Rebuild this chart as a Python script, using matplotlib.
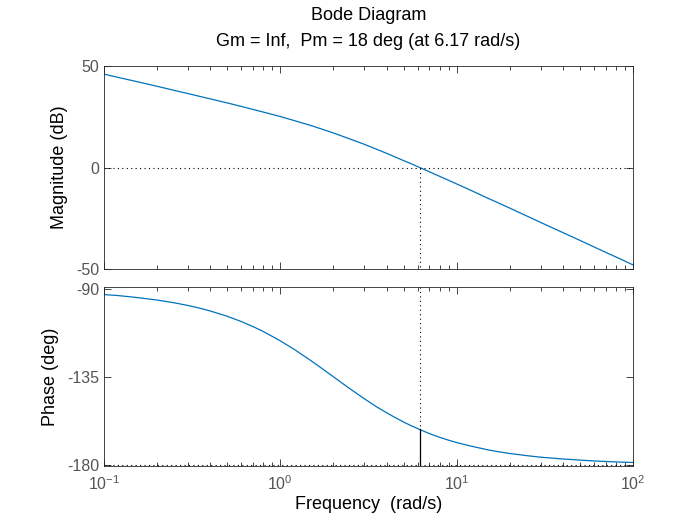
import matplotlib
matplotlib.use('Agg')
import matplotlib.pyplot as plt
from matplotlib.ticker import LogLocator, NullFormatter

# frequency points (rad/s)
freq = [0.1, 0.12, 0.15, 0.2, 0.25, 0.3, 0.35, 0.4, 0.5, 0.6, 0.7, 0.8, 1.0, 1.2,
        1.5, 1.7, 2.0, 2.3, 2.6, 3.0, 3.5, 4.0, 4.5, 5.0, 5.5, 6.17, 7.0, 8.0, 9.0,
        10.0, 12.0, 15.0, 17.0, 20.0, 25.0, 30.0, 40.0, 50.0, 60.0, 70.0, 85.0, 100.0]
mag_db = [46.0, 44.4, 42.5, 40.0, 38.0, 36.4, 35.0, 33.8, 31.8, 30.1, 28.6, 27.3,
          25.1, 23.1, 20.6, 19.05, 17.0, 15.1, 13.4, 11.4, 9.05, 7.0, 5.1, 3.4, 1.9,
          0.0, -2.1, -4.35, -6.3, -8.1, -11.2, -15.1, -17.2, -20.0, -23.9, -27.1,
          -32.05, -35.9, -39.1, -41.8, -45.1, -48.0]
phase_deg = [-92.9, -93.4, -94.3, -95.7, -97.1, -98.5, -99.9, -101.3, -104.0, -106.7,
             -109.3, -111.8, -116.6, -121.0, -126.9, -130.4, -135.0, -139.0, -142.4,
             -146.3, -150.3, -153.4, -156.0, -158.2, -160.0, -162.0, -164.1, -166.0,
             -167.5, -168.7, -170.5, -172.4, -173.3, -174.3, -175.4, -176.2, -177.1,
             -177.7, -178.1, -178.4, -178.7, -178.9]

wc = 6.17          # crossover frequency
pm_phase = -162.0  # phase at crossover
title = 'Bode Diagram'
subtitle = 'Gm = Inf,  Pm = 18 deg (at 6.17 rad/s)'

plt.rcParams['font.family'] = ['Liberation Sans', 'DejaVu Sans']
plt.rcParams['axes.unicode_minus'] = False
line_col = '#0072BD'
axis_col = '#262626'
tick_col = '#555555'

fig = plt.figure(figsize=(7, 5.25), dpi=100)
ax1 = fig.add_axes([0.1486, 0.4876, 0.7557, 0.3867])
ax2 = fig.add_axes([0.1486, 0.1124, 0.7557, 0.3410])

for ax in (ax1, ax2):
    ax.set_xscale('log')
    ax.set_xlim(0.1, 100)
    ax.xaxis.set_major_locator(LogLocator(base=10, numticks=10))
    ax.xaxis.set_minor_locator(LogLocator(base=10, subs=range(2, 10), numticks=10))
    ax.xaxis.set_minor_formatter(NullFormatter())
    ax.tick_params(which='both', direction='in', top=True, right=True,
                   colors=axis_col, labelcolor=tick_col, labelsize=11.5, width=0.6)
    ax.tick_params(which='major', length=5)
    ax.tick_params(which='minor', length=3)
    for s in ax.spines.values():
        s.set_color(axis_col)
        s.set_linewidth(0.6)

# magnitude
ax1.plot(freq, mag_db, color=line_col, lw=0.9)
ax1.axhline(0, color='black', ls=(0, (1, 3)), lw=0.8)
ax1.plot([wc, wc], [0, -50], color='black', ls=(0, (1, 3)), lw=0.8)
ax1.set_ylim(-50, 50)
ax1.set_yticks([-50, 0, 50])
ax1.tick_params(axis='x', labelbottom=False)
ax1.set_ylabel('Magnitude (dB)', fontsize=13, labelpad=6)

# phase
ax2.plot(freq, phase_deg, color=line_col, lw=0.9)
ax2.axhline(-180, color='black', ls=(0, (1, 3)), lw=0.8)
ax2.plot([wc, wc], [-89, pm_phase], color='black', ls=(0, (1, 3)), lw=0.8)
ax2.plot([wc, wc], [pm_phase, -180], color='black', lw=0.9)
ax2.set_ylim(-180.7, -89)
ax2.set_yticks([-180, -135, -90])
ax2.set_ylabel('Phase (deg)', fontsize=13, labelpad=6)
ax2.set_xlabel('Frequency  (rad/s)', fontsize=13, labelpad=2)
ax2.tick_params(axis='x', pad=6)

fig.text(0.5264, 1 - 15 / 525, title, ha='center', va='center', fontsize=13)
fig.text(0.5264, 1 - 41 / 525, subtitle, ha='center', va='center', fontsize=13)

fig.savefig('out.png', dpi=100)
